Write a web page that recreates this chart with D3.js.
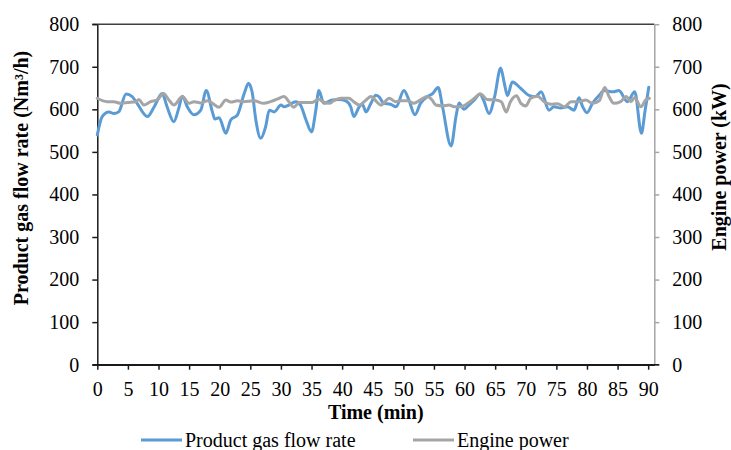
<!DOCTYPE html>
<html>
<head>
<meta charset="utf-8">
<script src="https://cdn.jsdelivr.net/npm/d3@7"></script>
<style>
  body { margin: 0; background: #fff; }
  svg text { font-family: "Liberation Serif", "Times New Roman", serif; fill: #000; }
</style>
</head>
<body>
<svg id="chart" width="731" height="450"></svg>
<script>
// Product gas flow rate (Nm³/h) over time (min)
const flowTime = [0, 0.8, 1.9, 2.7, 3.5, 4.7, 5.7, 6.5, 8.2, 9.3, 10.6, 11.4, 12.5, 13.3, 13.9, 14.7,
  15.8, 16.9, 17.8, 18.8, 19.2, 19.9, 21.0, 21.8, 22.9, 24.0, 24.7, 25.3, 25.9, 26.7, 27.5, 28.1,
  28.9, 30.0, 30.5, 31.3, 32.4, 33.2, 34.1, 35.0, 35.7, 36.2, 37.0, 38.4, 39.5, 40.6, 41.4, 41.9,
  42.8, 43.3, 43.9, 44.7, 45.5, 46.0, 46.8, 47.9, 48.8, 50.1, 50.9, 51.9, 52.8, 53.9, 54.7, 55.7,
  56.4, 57.8, 58.6, 59.1, 59.9, 60.7, 61.6, 62.5, 63.1, 64.0, 64.9, 65.9, 66.5, 67.0, 67.8, 69.2,
  70.5, 71.6, 72.5, 73.8, 74.6, 75.7, 76.8, 77.9, 78.7, 79.3, 80.0, 80.9, 82.0, 82.8, 84.2, 85.2,
  86.6, 87.8, 88.9, 89.5, 90.1];
const flowRate = [540, 583, 594, 590, 594, 636, 630, 614, 583, 606, 637, 606, 571, 602, 631, 606,
  587, 598, 644, 594, 577, 580, 544, 575, 587, 637, 661, 640, 575, 532, 559, 598,
  594, 610, 606, 610, 618, 610, 575, 547, 598, 644, 614, 622, 623, 620, 606, 583,
  606, 612, 594, 614, 633, 630, 614, 612, 606, 644, 622, 587, 614, 630, 636, 651,
  606, 514, 583, 615, 600, 610, 622, 636, 622, 590, 629, 697, 661, 632, 664, 649,
  633, 630, 641, 598, 606, 603, 606, 598, 627, 606, 592, 614, 633, 644, 641, 644,
  618, 641, 544, 598, 652];

// Engine power (kW) over time (min)
const powerTime = [0, 1.6, 2.7, 3.8, 4.9, 6.3, 6.8, 7.6, 8.7, 9.8, 10.8, 11.7, 12.5, 13.9, 15.0,
  15.8, 16.9, 18.0, 18.8, 19.9, 21.0, 21.8, 22.9, 23.9, 25.6, 27.2, 28.3, 29.4, 30.5, 31.3, 32.1,
  33.0, 34.1, 35.1, 36.2, 36.8, 38.0, 38.6, 39.8, 41.1, 41.9, 42.8, 43.9, 44.7, 45.7, 46.3, 47.7,
  48.7, 49.6, 50.7, 51.7, 52.8, 53.9, 54.7, 55.3, 56.4, 57.5, 58.3, 59.4, 60.5, 61.6, 62.6, 63.7,
  65.1, 66.0, 66.8, 67.5, 68.5, 69.2, 70.0, 70.8, 71.9, 73.0, 74.1, 75.2, 76.3, 77.4, 78.7, 79.8,
  80.9, 82.0, 82.9, 83.6, 84.4, 85.5, 86.4, 87.2, 87.8, 88.8, 89.6, 90.2];
const enginePower = [626, 618, 618, 614, 616, 618, 623, 610, 618, 622, 637, 622, 610, 630, 614,
  618, 615, 620, 614, 605, 622, 617, 620, 618, 620, 614, 618, 624, 630, 618, 605,
  616, 616, 616, 624, 618, 614, 620, 626, 626, 618, 610, 622, 630, 617, 610, 626,
  618, 620, 620, 614, 622, 630, 622, 610, 608, 610, 606, 606, 614, 626, 636, 623,
  622, 618, 594, 618, 632, 614, 608, 626, 631, 618, 612, 613, 606, 618, 618, 622,
  614, 620, 651, 630, 614, 618, 630, 618, 628, 606, 622, 626];

const timeTicks = [0, 5, 10, 15, 20, 25, 30, 35, 40, 45, 50, 55, 60, 65, 70, 75, 80, 85, 90];
const flowTicks = [0, 100, 200, 300, 400, 500, 600, 700, 800];
const powerTicks = [0, 100, 200, 300, 400, 500, 600, 700, 800];

const seriesNames = ["Product gas flow rate", "Engine power"];
const seriesColors = ["#5b9bd5", "#a5a5a5"];

const svg = d3.select("#chart");
const plot = { left: 97.3, right: 654.3, top: 24.2, bottom: 364.7 };

const x = d3.scaleLinear().domain([0, 91]).range([plot.left, plot.right]);
const yL = d3.scaleLinear().domain([0, 800]).range([plot.bottom, plot.top]);
const yR = d3.scaleLinear().domain([0, 800]).range([plot.bottom, plot.top]);

const axisColor = "#1a1a1a";
const rightAxisColor = "#a6a6a6";

function styleAxis(g, color) {
  g.selectAll("path.domain").attr("stroke", color).attr("stroke-width", 1.5);
  g.selectAll(".tick line").attr("stroke", color).attr("stroke-width", 1.5);
  g.selectAll(".tick text").attr("font-size", 20).attr("font-family", null).attr("fill", "#000");
}

// plot area top border
svg.append("line")
  .attr("x1", plot.left - 5).attr("x2", plot.right)
  .attr("y1", yL(800)).attr("y2", yL(800))
  .attr("stroke", "#404040").attr("stroke-width", 1.5);

// left axis
svg.append("g")
  .attr("transform", `translate(${plot.left},0)`)
  .call(d3.axisLeft(yL).tickValues(flowTicks).tickSize(5).tickSizeOuter(0).tickPadding(13))
  .call(g => styleAxis(g, axisColor));

// right axis
svg.append("g")
  .attr("transform", `translate(${plot.right},0)`)
  .call(d3.axisRight(yR).tickValues(powerTicks).tickSize(5).tickSizeOuter(0).tickPadding(13))
  .call(g => styleAxis(g, rightAxisColor));

// bottom axis
svg.append("g")
  .attr("transform", `translate(0,${plot.bottom})`)
  .call(d3.axisBottom(x).tickValues(timeTicks).tickSize(5).tickSizeOuter(0).tickPadding(12))
  .call(g => styleAxis(g, axisColor));

svg.append("line")
  .attr("x1", plot.left - 5).attr("x2", plot.right + 5)
  .attr("y1", yL(0)).attr("y2", yL(0))
  .attr("stroke", axisColor).attr("stroke-width", 1.5);

// series lines
const flowLine = d3.line()
  .x((d, i) => x(flowTime[i]))
  .y(d => yL(d))
  .curve(d3.curveMonotoneX);
const powerLine = d3.line()
  .x((d, i) => x(powerTime[i]))
  .y(d => yR(d))
  .curve(d3.curveMonotoneX);

svg.append("path")
  .datum(flowRate)
  .attr("d", flowLine)
  .attr("fill", "none")
  .attr("stroke", seriesColors[0])
  .attr("stroke-width", 3)
  .attr("stroke-linejoin", "round")
  .attr("stroke-linecap", "round");

svg.append("path")
  .datum(enginePower)
  .attr("d", powerLine)
  .attr("fill", "none")
  .attr("stroke", seriesColors[1])
  .attr("stroke-width", 3)
  .attr("stroke-linejoin", "round")
  .attr("stroke-linecap", "round");

// axis titles
svg.append("text")
  .attr("transform", "translate(28,178) rotate(-90)")
  .attr("text-anchor", "middle")
  .attr("font-size", 20).attr("font-weight", "bold")
  .text("Product gas flow rate (Nm³/h)");

svg.append("text")
  .attr("transform", "translate(726,167) rotate(-90)")
  .attr("text-anchor", "middle")
  .attr("font-size", 20).attr("font-weight", "bold")
  .text("Engine power (kW)");

svg.append("text")
  .attr("x", (plot.left + plot.right) / 2)
  .attr("y", 419)
  .attr("text-anchor", "middle")
  .attr("font-size", 20).attr("font-weight", "bold")
  .text("Time (min)");

// legend
const legendX = [141, 413];
const legend = svg.append("g");
seriesNames.forEach((name, i) => {
  legend.append("line")
    .attr("x1", legendX[i]).attr("x2", legendX[i] + 41)
    .attr("y1", 440).attr("y2", 440)
    .attr("stroke", seriesColors[i]).attr("stroke-width", 3);
  legend.append("text")
    .attr("x", legendX[i] + 44)
    .attr("y", 447)
    .attr("font-size", 20)
    .text(name);
});
</script>
</body>
</html>
